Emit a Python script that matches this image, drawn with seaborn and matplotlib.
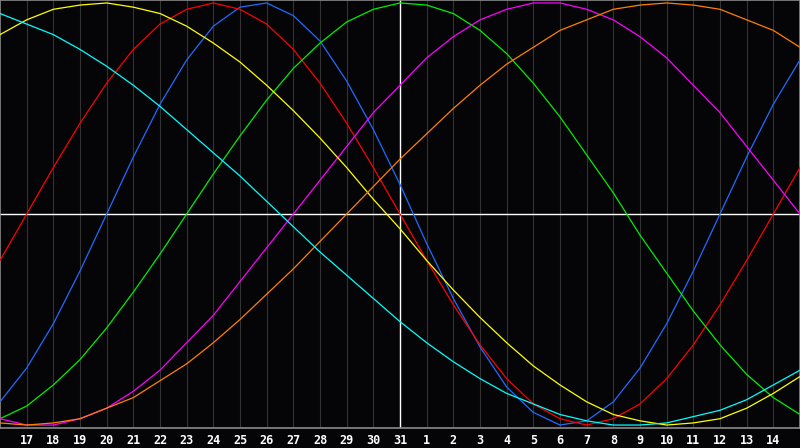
import pandas as pd
import matplotlib
matplotlib.use("Agg")
import matplotlib.pyplot as plt
import seaborn as sns

# day index 0..30, labels shown for days 1..29
day_labels = ["17", "18", "19", "20", "21", "22", "23", "24", "25", "26", "27", "28",
              "29", "30", "31", "1", "2", "3", "4", "5", "6", "7", "8", "9", "10",
              "11", "12", "13", "14"]
days = list(range(31))

physical = [-0.89, -0.73, -0.52, -0.27, 0.00, 0.27, 0.52, 0.73, 0.89, 0.98, 1.00,
            0.94, 0.82, 0.63, 0.40, 0.14, -0.14, -0.40, -0.63, -0.82, -0.94, -1.00,
            -0.98, -0.89, -0.73, -0.52, -0.27, 0.00, 0.27, 0.52, 0.73]
emotional = [-0.22, 0.00, 0.22, 0.43, 0.62, 0.78, 0.90, 0.97, 1.00, 0.97, 0.90,
             0.78, 0.62, 0.43, 0.22, 0.00, -0.22, -0.43, -0.62, -0.78, -0.90, -0.97,
             -1.00, -0.97, -0.90, -0.78, -0.62, -0.43, -0.22, 0.00, 0.22]
intellectual = [-0.97, -0.91, -0.81, -0.69, -0.54, -0.37, -0.19, 0.00, 0.19, 0.37, 0.54,
                0.69, 0.81, 0.91, 0.97, 1.00, 0.99, 0.95, 0.87, 0.76, 0.62, 0.46,
                0.28, 0.10, -0.10, -0.28, -0.46, -0.62, -0.76, -0.87, -0.95]
intuitive = [-0.97, -1.00, -1.00, -0.97, -0.92, -0.84, -0.74, -0.61, -0.48, -0.32, -0.16,
             0.00, 0.16, 0.32, 0.48, 0.61, 0.74, 0.84, 0.92, 0.97, 1.00, 1.00,
             0.97, 0.92, 0.84, 0.74, 0.61, 0.48, 0.32, 0.16, 0.00]
aesthetic = [0.85, 0.92, 0.97, 0.99, 1.00, 0.98, 0.95, 0.89, 0.81, 0.72, 0.61,
             0.49, 0.36, 0.22, 0.07, -0.07, -0.22, -0.36, -0.49, -0.61, -0.72, -0.81,
             -0.89, -0.95, -0.98, -1.00, -0.99, -0.97, -0.92, -0.85, -0.77]
awareness = [-0.99, -1.00, -0.99, -0.97, -0.92, -0.87, -0.79, -0.71, -0.61, -0.50, -0.38,
             -0.26, -0.13, 0.00, 0.13, 0.26, 0.38, 0.50, 0.61, 0.71, 0.79, 0.87,
             0.92, 0.97, 0.99, 1.00, 0.99, 0.97, 0.92, 0.87, 0.79]
spiritual = [0.95, 0.90, 0.85, 0.78, 0.70, 0.61, 0.51, 0.40, 0.29, 0.18, 0.06,
             -0.06, -0.18, -0.29, -0.40, -0.51, -0.61, -0.70, -0.78, -0.85, -0.90, -0.95,
             -0.98, -1.00, -1.00, -0.99, -0.96, -0.93, -0.88, -0.81, -0.74]

series = {
    "physical": physical,
    "emotional": emotional,
    "intellectual": intellectual,
    "intuitive": intuitive,
    "aesthetic": aesthetic,
    "awareness": awareness,
    "spiritual": spiritual,
}
colors = {
    "physical": "#1e6cff",
    "emotional": "#ff0000",
    "intellectual": "#00ee00",
    "intuitive": "#ff00ff",
    "aesthetic": "#ffff00",
    "awareness": "#ff8000",
    "spiritual": "#00ffff",
}

rows = []
for name, vals in series.items():
    for d, v in zip(days, vals):
        rows.append({"day": d, "value": v, "cycle": name})
df = pd.DataFrame(rows)

sns.set_style("dark")
bg = "#050508"
fig = plt.figure(figsize=(8, 4.48), dpi=100, facecolor=bg)
ax = fig.add_axes([0, 20 / 448, 1, 428 / 448])
ax.set_facecolor(bg)

# day grid
for d in days[1:-1]:
    ax.axvline(d, color="#333333", lw=0.8, zorder=0)
ax.axvline(15, color="white", lw=1.0, zorder=1)
ax.axhline(0, color="white", lw=1.0, zorder=1)

sns.lineplot(data=df, x="day", y="value", hue="cycle", palette=colors,
             hue_order=list(series.keys()), lw=0.9, ax=ax, legend=False,
             zorder=3)

ax.set_xlim(0, 30)
ax.set_ylim(-1.014, 1.014)
ax.set_xticks(days[1:-1])
ax.set_xticklabels(day_labels, color="white", fontsize=8.5,
                   fontfamily="DejaVu Sans Mono", fontweight="bold")
ax.set_yticks([])
ax.tick_params(axis="x", length=0, pad=4)
ax.set_xlabel("")
ax.set_ylabel("")
ax.grid(False)
for s in ax.spines.values():
    s.set_visible(True)
    s.set_color("#8a8a8a")
    s.set_linewidth(1.2)

fig.savefig("out.png", dpi=100, facecolor=bg)
